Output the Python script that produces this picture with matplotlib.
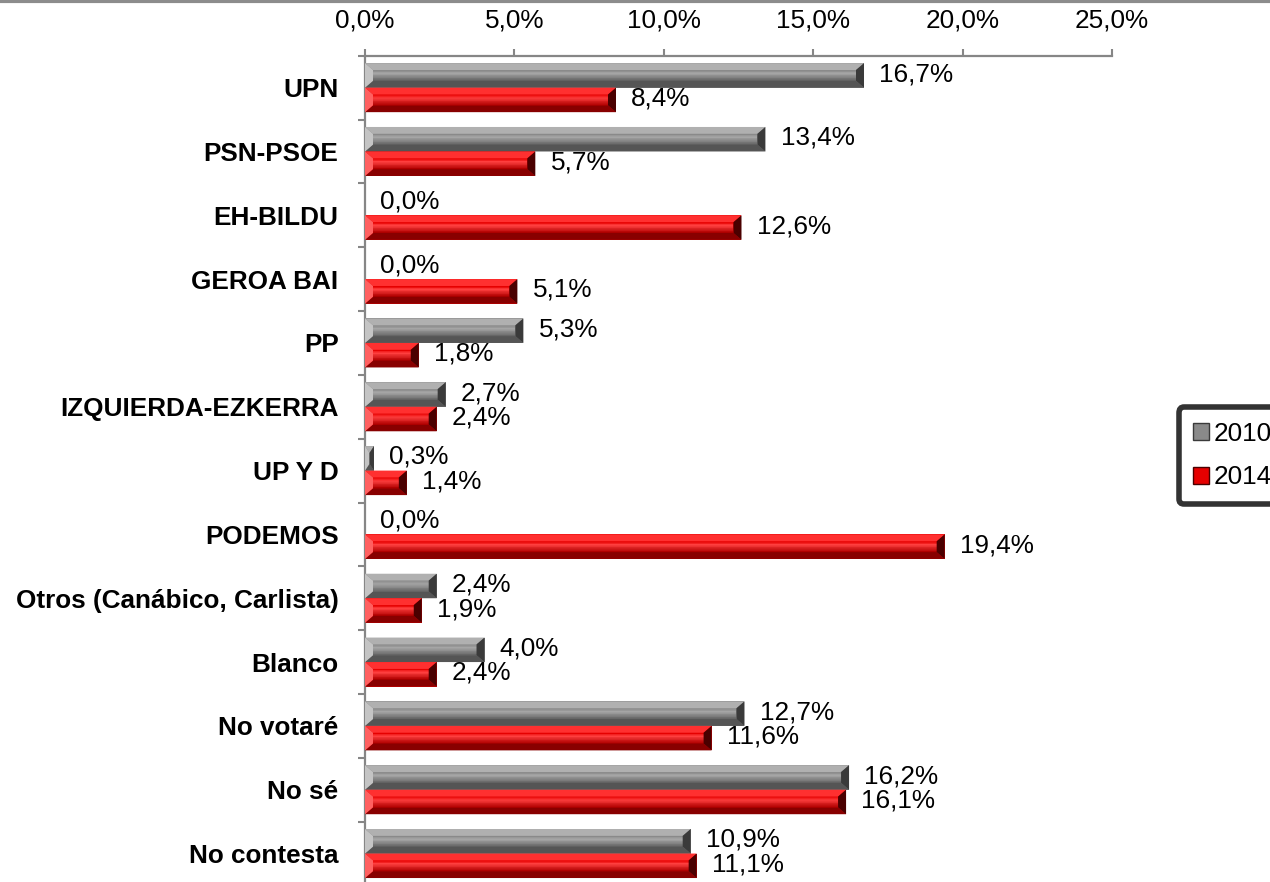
import matplotlib
matplotlib.use("Agg")
import matplotlib.pyplot as plt
from matplotlib.patches import Polygon, Rectangle
from matplotlib.colors import to_rgb
from matplotlib.lines import Line2D
import numpy as np

plt.rcParams['font.family'] = ['Liberation Sans', 'DejaVu Sans']

# Data
categories = ["UPN", "PSN-PSOE", "EH-BILDU", "GEROA BAI", "PP", "IZQUIERDA-EZKERRA",
              "UP Y D", "PODEMOS", "Otros (Canábico, Carlista)", "Blanco",
              "No votaré", "No sé", "No contesta"]
values_2010 = [16.7, 13.4, 0.0, 0.0, 5.3, 2.7, 0.3, 0.0, 2.4, 4.0, 12.7, 16.2, 10.9]
values_2014 = [8.4, 5.7, 12.6, 5.1, 1.8, 2.4, 1.4, 19.4, 1.9, 2.4, 11.6, 16.1, 11.1]
series_names = ["2010", "2014"]
x_ticks = [0, 5, 10, 15, 20, 25]

FS = 18.8

# bevel palettes: top facet, face top, highlight, face bottom, bottom facet, left, right
palettes = {
    "2010": dict(top="#b0b0b0", f1="#8a8a8a", hl="#a6a6a6", f2="#666666",
                 bot="#555555", left="#c4c4c4", right="#3a3a3a"),
    "2014": dict(top="#ff3030", f1="#e60000", hl="#ff4040", f2="#b00000",
                 bot="#880000", left="#ff6060", right="#4a0000"),
}


def mix(c1, c2, t):
    a, b = np.array(to_rgb(c1)), np.array(to_rgb(c2))
    return tuple(a + (b - a) * t)


def bevel_bar(ax, patch, pal, bx_px=8):
    x0, y0 = patch.get_x(), patch.get_y()
    w, h = patch.get_width(), patch.get_height()
    if w <= 0:
        return
    # data units per pixel in x
    px = ax.transData.inverted().transform([(1, 0), (0, 0)])
    dx = abs(px[0][0] - px[1][0])
    bx = min(bx_px * dx, w / 2)
    by = h * 0.28
    x1 = x0 + w
    top, bot = y0, y0 + h  # inverted y axis: y0 is on screen top
    # face stripes
    n = 14
    ys = np.linspace(top + by, bot - by, n + 1)
    for i in range(n):
        t = i / (n - 1)
        if t < 0.3:
            c = mix(pal["f1"], pal["hl"], t / 0.3)
        else:
            c = mix(pal["hl"], pal["f2"], (t - 0.3) / 0.7)
        ax.add_patch(Rectangle((x0 + bx, ys[i]), max(w - 2 * bx, 0), ys[i + 1] - ys[i],
                               facecolor=c, edgecolor="none", zorder=3))
    facets = [
        ([(x0, top), (x1, top), (x1 - bx, top + by), (x0 + bx, top + by)], pal["top"]),
        ([(x0, bot), (x1, bot), (x1 - bx, bot - by), (x0 + bx, bot - by)], pal["bot"]),
        ([(x0, top), (x0 + bx, top + by), (x0 + bx, bot - by), (x0, bot)], pal["left"]),
        ([(x1, top), (x1 - bx, top + by), (x1 - bx, bot - by), (x1, bot)], pal["right"]),
    ]
    for pts, c in facets:
        ax.add_patch(Polygon(pts, closed=True, facecolor=c, edgecolor="none", zorder=3))


fig = plt.figure(figsize=(12.7, 8.82), dpi=100)
ax = fig.add_axes([0.2874, -0.0039, 0.5882, 0.9407])

y = np.arange(len(categories))
bh = 0.384
bars1 = ax.barh(y - bh / 2, values_2010, height=bh, color="#7f7f7f", zorder=2)
bars2 = ax.barh(y + bh / 2, values_2014, height=bh, color="#e00000", zorder=2)

ax.set_xlim(0, 25)
ax.set_ylim(len(categories) - 0.5, -0.5)

for p in bars1:
    bevel_bar(ax, p, palettes["2010"])
for p in bars2:
    bevel_bar(ax, p, palettes["2014"])

for bars, vals in ((bars1, values_2010), (bars2, values_2014)):
    for p, v in zip(bars, vals):
        ax.annotate(f"{v:.1f}%".replace(".", ","), (v, p.get_y() + p.get_height() / 2),
                    xytext=(11, 1), textcoords="offset points", ha="left", va="center",
                    fontsize=FS, color="black", zorder=5, annotation_clip=False)

ax.xaxis.tick_top()
ax.set_xticks(x_ticks)
ax.set_xticklabels([f"{t:.1f}%".replace(".", ",") for t in x_ticks], fontsize=FS)
ax.set_yticks(np.arange(len(categories) + 1) - 0.5, minor=False)
ax.set_yticklabels([])
ax.set_yticks(y, minor=True)
ax.set_yticklabels(categories, minor=True, fontsize=FS, fontweight="bold")
ax.tick_params(axis="y", which="minor", length=0, pad=19)
ax.tick_params(axis="y", which="major", length=5, color="#868686", width=1.5)
ax.tick_params(axis="x", length=5, color="#868686", width=1.5, pad=12)

for s in ("right", "bottom"):
    ax.spines[s].set_visible(False)
for s in ("top", "left"):
    ax.spines[s].set_color("#868686")
    ax.spines[s].set_linewidth(1.6)

# legend
handles = [Rectangle((0, 0), 1, 1, facecolor=palettes[n]["f1"], edgecolor=palettes[n]["right"])
           for n in series_names]
leg = fig.legend(handles, series_names, loc="upper left", bbox_to_anchor=(0.928, 0.538),
                 fontsize=FS, frameon=True, fancybox=True, handlelength=0.6, handleheight=0.6,
                 handletextpad=0.2, labelspacing=0.75, borderpad=0.55, borderaxespad=0)
leg.get_frame().set_edgecolor("black")
leg.get_frame().set_linewidth(4)

# thin grey frame line at the top of the picture
fig.add_artist(Line2D([0, 1], [0.999, 0.999], color="#8c8c8c", lw=3, transform=fig.transFigure))

fig.savefig("out.png", dpi=100)
